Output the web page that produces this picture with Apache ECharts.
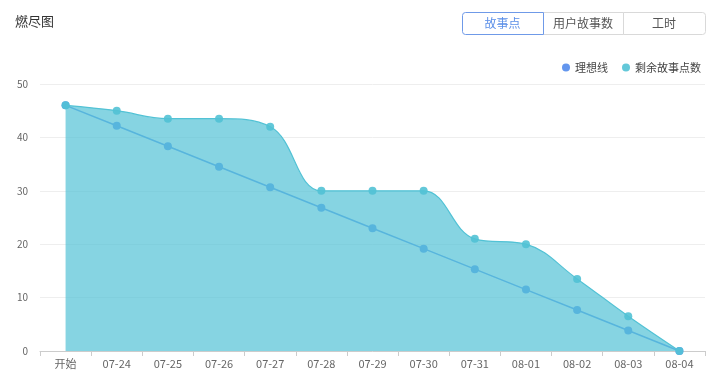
<!DOCTYPE html>
<html><head><meta charset="utf-8">
<script src="https://cdn.jsdelivr.net/npm/echarts@6/dist/echarts.min.js"></script>
<style>html,body{margin:0;padding:0;background:#fff}#c{width:720px;height:392px}</style>
</head><body><div id="c"></div>
<script>
var categories = ['开始','07-24','07-25','07-26','07-27','07-28','07-29','07-30','07-31','08-01','08-02','08-03','08-04'];
var idealLine = [46, 42.17, 38.33, 34.5, 30.67, 26.83, 23, 19.17, 15.33, 11.5, 7.67, 3.83, 0];
var remaining = [46, 45, 43.5, 43.5, 42, 30, 30, 30, 21, 20, 13.5, 6.5, 0];
var buttons = ['故事点', '用户故事数', '工时'];
var seriesNames = ['理想线', '剩余故事点数'];

var font = '"Noto Sans CJK SC", "Noto Sans", sans-serif';
var chart = echarts.init(document.getElementById('c'));
var bx = [462, 543, 623], bw = [81, 80, 82];
var graphics = [];
buttons.forEach(function (b, i) {
  var sel = i === 0;
  graphics.push({
    type: 'rect', left: bx[i], top: 12, z: sel ? 11 : 10,
    shape: { width: bw[i], height: 22, r: i === 0 ? [3,0,0,3] : (i === 2 ? [0,3,3,0] : 0) },
    style: { fill: '#fff', stroke: sel ? '#6f9ae8' : '#d9d9d9', lineWidth: 1 }
  });
  graphics.push({
    type: 'text', x: bx[i] + bw[i] / 2, y: 23, z: 12,
    style: { text: b, fill: sel ? '#5b8fe8' : '#555', font: '12px ' + font, textAlign: 'center', textVerticalAlign: 'middle' }
  });
});
chart.setOption({
  textStyle: { fontFamily: font },
  title: { text: '燃尽图', left: 10, top: 10, textStyle: { fontSize: 13, fontWeight: 'normal', color: '#333' } },
  graphic: graphics,
  legend: {
    right: 14, top: 57, icon: 'circle', itemWidth: 8, itemHeight: 8, itemGap: 14,
    textStyle: { fontSize: 11, color: '#444' },
    data: seriesNames
  },
  grid: { left: 40, right: 15, top: 84, bottom: 41, containLabel: false },
  xAxis: {
    type: 'category', data: categories, boundaryGap: true,
    axisLine: { lineStyle: { color: '#ccc' } },
    axisTick: { show: true, length: 5, lineStyle: { color: '#ccc' } },
    axisLabel: { color: '#666', fontSize: 11, margin: 7 }
  },
  yAxis: {
    type: 'value', min: 0, max: 50, interval: 10,
    axisLine: { show: false }, axisTick: { show: false },
    axisLabel: { color: '#666', fontSize: 10, margin: 12 },
    splitLine: { lineStyle: { color: '#eee' } }
  },
  series: [
    {
      name: seriesNames[0], type: 'line', data: idealLine,
      symbol: 'circle', symbolSize: 8,
      itemStyle: { color: '#6396ee' },
      lineStyle: { width: 1.5, color: '#6396ee' },
      z: 2
    },
    {
      name: seriesNames[1], type: 'line', data: remaining,
      smooth: 0.4,
      symbol: 'circle', symbolSize: 8,
      itemStyle: { color: '#52c2d5', opacity: 0.9 },
      lineStyle: { width: 1.2, color: '#52c2d5' },
      areaStyle: { color: '#52c2d5', opacity: 0.7 },
      z: 3
    }
  ]
});
</script></body></html>
